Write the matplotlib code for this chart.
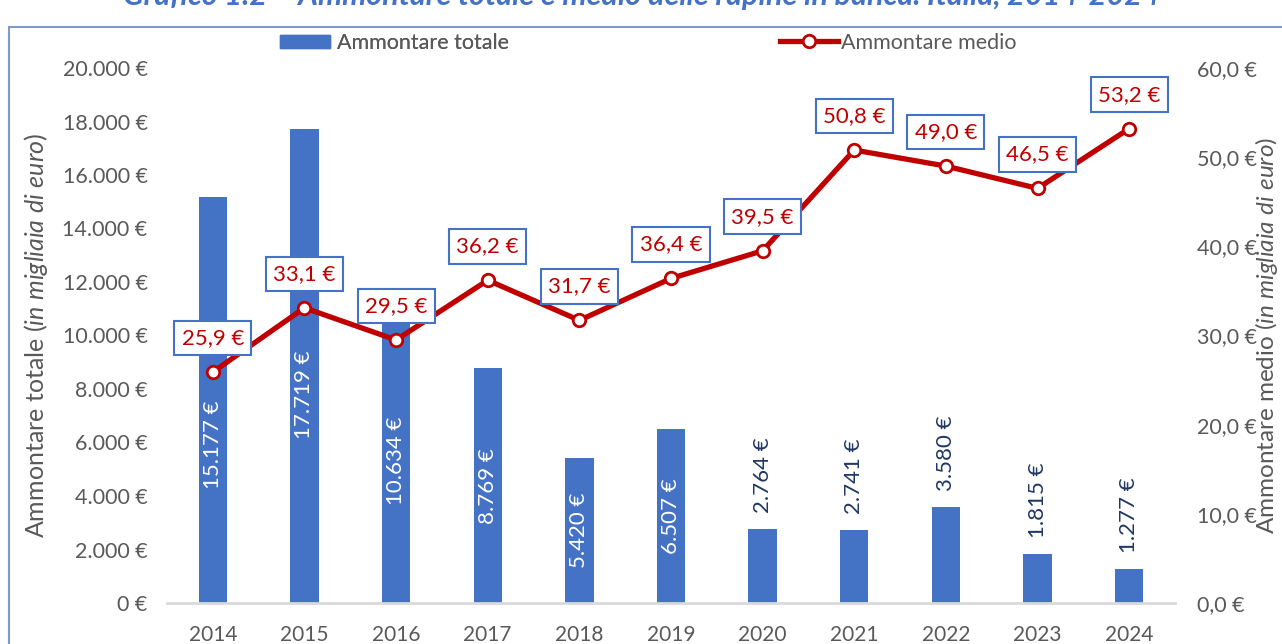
import numpy as np
import matplotlib
matplotlib.use("Agg")
import matplotlib.pyplot as plt
from matplotlib.ticker import FuncFormatter, MultipleLocator
from matplotlib.patches import Patch, Rectangle
from matplotlib.lines import Line2D

plt.rcParams['font.family'] = ['Lato', 'DejaVu Sans']
plt.rcParams['mathtext.fontset'] = 'custom'
plt.rcParams['mathtext.rm'] = 'Lato'
plt.rcParams['mathtext.it'] = 'Lato:italic'

years = [2014, 2015, 2016, 2017, 2018, 2019, 2020, 2021, 2022, 2023, 2024]
totale = [15177, 17719, 10634, 8769, 5420, 6507, 2764, 2741, 3580, 1815, 1277]
medio = [25.9, 33.1, 29.5, 36.2, 31.7, 36.4, 39.5, 50.8, 49.0, 46.5, 53.2]
# where the white labels sit inside the bars (None = middle of the bar)
label_y = [5900, 7780, None, None, None, None]

blue = '#4472C4'
red = '#C00000'
grey = '#595959'
navy = '#1F3864'

def fmt_eur(v):
    return f"{int(v):,}".replace(',', '.') + " €"

def fmt_dec(v):
    return f"{v:.1f}".replace('.', ',') + " €"

fig = plt.figure(figsize=(12.82, 6.44), dpi=100)
ax = fig.add_axes([167/1282, 41/644, 1008/1282, 535/644])
ax2 = ax.twinx()

x = np.arange(len(years))
ax.bar(x, totale, width=0.31, color=blue, zorder=2)
ax.set_xlim(-0.5, len(years) - 0.5)
ax.set_ylim(0, 20000)
ax.yaxis.set_major_locator(MultipleLocator(2000))
ax.yaxis.set_major_formatter(FuncFormatter(lambda v, p: fmt_eur(v)))
ax.set_xticks(x)
ax.set_xticklabels([str(y) for y in years])

for i, v in enumerate(totale):
    if i < len(label_y):
        yy = label_y[i] if label_y[i] is not None else v / 2
        ax.text(i, yy, fmt_eur(v), rotation=90, ha='center', va='center',
                color='white', fontsize=16, zorder=3)
    else:
        ax.annotate(fmt_eur(v), (i, v), xytext=(0, 16), textcoords='offset pixels',
                    rotation=90, ha='center', va='bottom', color=navy, fontsize=16)

ax2.plot(x, medio, color=red, lw=3.8, marker='o', ms=9, mfc='white', mec=red,
         mew=2, zorder=4)
ax2.set_ylim(0, 60)
ax2.yaxis.set_major_locator(MultipleLocator(10))
ax2.yaxis.set_major_formatter(FuncFormatter(lambda v, p: fmt_dec(v)))
for i, v in enumerate(medio):
    ax2.annotate(fmt_dec(v), (i, v), xytext=(0, 34), textcoords='offset pixels',
                 ha='center', va='center', color=red, fontsize=16, zorder=5,
                 bbox=dict(boxstyle='square,pad=0.33', fc='white', ec=blue, lw=1.5))

for a in (ax, ax2):
    for s in a.spines.values():
        s.set_visible(False)
ax.spines['bottom'].set_visible(True)
ax.spines['bottom'].set_color('#D9D9D9')
ax.spines['bottom'].set_linewidth(2)

ax.tick_params(axis='y', length=0, pad=14, labelsize=15.5, labelcolor=grey)
ax.tick_params(axis='x', length=0, pad=16, labelsize=15, labelcolor=grey)
ax2.tick_params(axis='y', length=0, pad=16, labelsize=15.5, labelcolor=grey)

ax.set_ylabel("Ammontare totale $\\it{(in\\ migliaia\\ di\\ euro)}$", fontsize=18, color=grey)
ax.yaxis.set_label_coords(-0.116, 0.5)
ax2.set_ylabel("Ammontare medio $\\it{(in\\ migliaia\\ di\\ euro)}$", fontsize=17.5, color=grey,
               rotation=90)
ax2.yaxis.set_label_coords(1.077, 0.5)

# legend
leg1 = fig.legend(handles=[Patch(color=blue)], labels=["Ammontare totale"],
                  loc='center left', bbox_to_anchor=(280/1282, 1 - 43/644),
                  frameon=False, borderpad=0, borderaxespad=0, handlelength=2.3,
                  handleheight=0.6, handletextpad=0.35, fontsize=15.5, labelcolor=grey)
fig.legend(handles=[Line2D([], [], color=red, lw=3.8, marker='o', ms=9, mfc='white',
                           mec=red, mew=2)],
           labels=["Ammontare medio"], loc='center left',
           bbox_to_anchor=(780/1282, 1 - 43/644), frameon=False, borderpad=0,
           borderaxespad=0, handlelength=2.7, handletextpad=0.15, fontsize=15.5,
           labelcolor=grey)
fig.add_artist(leg1)

# frame and clipped title
fig.add_artist(Rectangle((9/1282, -0.1), 1.2, 1.1 - 27/644, transform=fig.transFigure,
                         fill=False, ec='#7F9BC8', lw=1.5))
fig.text(0.5, 1 - 5/644, "Grafico 1.2 – Ammontare totale e medio delle rapine in banca. Italia, 2014-2024",
         ha='center', va='baseline', fontsize=22, fontweight='bold', fontstyle='italic',
         color=blue)

fig.savefig("out.png", dpi=100)
